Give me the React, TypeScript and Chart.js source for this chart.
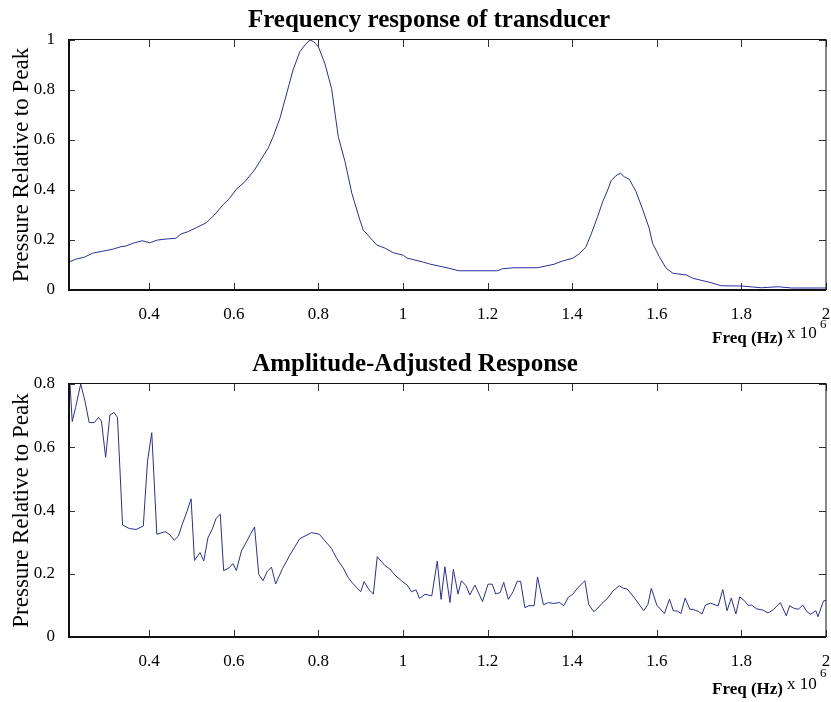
import React, { useEffect, useRef } from 'react';
import { Chart, registerables } from 'chart.js';

Chart.register(...registerables);

// ---------- data (frequency in MHz, i.e. Hz x 10^6) ----------
const TOP_FREQ = [
  0.209, 0.226, 0.246, 0.266, 0.289, 0.313, 0.333, 0.345, 0.365, 0.384,
  0.401, 0.420, 0.440, 0.463, 0.475, 0.491, 0.511, 0.535, 0.554, 0.574,
  0.590, 0.606, 0.626, 0.649, 0.661, 0.681, 0.693, 0.709, 0.724, 0.740,
  0.756, 0.768, 0.780, 0.789, 0.800, 0.815, 0.831, 0.847, 0.863, 0.879,
  0.898, 0.906, 0.938, 0.958, 0.977, 1.001, 1.009, 1.049, 1.065, 1.104,
  1.132, 1.223, 1.235, 1.262, 1.318, 1.357, 1.377, 1.401, 1.416, 1.432,
  1.444, 1.460, 1.472, 1.484, 1.492, 1.503, 1.514, 1.523, 1.535, 1.551,
  1.567, 1.582, 1.590, 1.606, 1.622, 1.638, 1.670, 1.685, 1.729, 1.752,
  1.800, 1.847, 1.887, 1.919, 2.000,
];
const TOP_PRESSURE = [
  0.111, 0.123, 0.131, 0.147, 0.155, 0.163, 0.173, 0.176, 0.189, 0.197,
  0.189, 0.200, 0.204, 0.207, 0.224, 0.233, 0.249, 0.269, 0.300, 0.340,
  0.367, 0.403, 0.433, 0.480, 0.513, 0.567, 0.613, 0.687, 0.780, 0.880,
  0.953, 0.980, 1.000, 0.993, 0.973, 0.907, 0.807, 0.613, 0.513, 0.387,
  0.280, 0.240, 0.180, 0.167, 0.149, 0.139, 0.128, 0.111, 0.103, 0.089,
  0.077, 0.077, 0.085, 0.089, 0.089, 0.103, 0.116, 0.127, 0.144, 0.171,
  0.220, 0.293, 0.353, 0.400, 0.437, 0.457, 0.467, 0.453, 0.443, 0.393,
  0.320, 0.247, 0.187, 0.133, 0.087, 0.067, 0.060, 0.047, 0.029, 0.017,
  0.016, 0.009, 0.013, 0.008, 0.008,
];

const ADJ_FREQ = [
  0.210, 0.218, 0.226, 0.238, 0.248, 0.258, 0.270, 0.280, 0.287, 0.297,
  0.307, 0.317, 0.325, 0.337, 0.353, 0.369, 0.386, 0.396, 0.406, 0.418,
  0.438, 0.448, 0.459, 0.469, 0.478, 0.489, 0.499, 0.507, 0.520, 0.529,
  0.539, 0.549, 0.558, 0.568, 0.576, 0.588, 0.598, 0.606, 0.618, 0.630,
  0.639, 0.649, 0.659, 0.669, 0.679, 0.689, 0.699, 0.715, 0.732, 0.756,
  0.784, 0.802, 0.831, 0.843, 0.860, 0.870, 0.881, 0.900, 0.908, 0.920,
  0.930, 0.939, 0.957, 0.969, 0.981, 0.997, 1.010, 1.020, 1.031, 1.039,
  1.052, 1.068, 1.081, 1.090, 1.099, 1.111, 1.119, 1.130, 1.138, 1.149,
  1.158, 1.170, 1.188, 1.201, 1.211, 1.219, 1.230, 1.238, 1.249, 1.260,
  1.270, 1.278, 1.288, 1.298, 1.310, 1.318, 1.332, 1.344, 1.356, 1.370,
  1.380, 1.391, 1.402, 1.412, 1.430, 1.439, 1.451, 1.458, 1.470, 1.482,
  1.496, 1.511, 1.521, 1.530, 1.548, 1.569, 1.579, 1.587, 1.600, 1.618,
  1.630, 1.639, 1.649, 1.657, 1.667, 1.678, 1.688, 1.698, 1.707, 1.715,
  1.727, 1.745, 1.756, 1.766, 1.776, 1.787, 1.796, 1.807, 1.816, 1.824,
  1.836, 1.851, 1.863, 1.875, 1.892, 1.906, 1.914, 1.925, 1.935, 1.945,
  1.955, 1.964, 1.976, 1.981, 1.994, 2.000,
];
const ADJ_PRESSURE = [
  0.860, 0.681, 0.726, 0.800, 0.747, 0.678, 0.678, 0.694, 0.683, 0.568,
  0.702, 0.710, 0.694, 0.354, 0.343, 0.340, 0.351, 0.556, 0.646, 0.325,
  0.333, 0.324, 0.306, 0.319, 0.356, 0.396, 0.437, 0.242, 0.267, 0.241,
  0.314, 0.341, 0.375, 0.388, 0.210, 0.218, 0.232, 0.210, 0.272, 0.301,
  0.324, 0.348, 0.198, 0.178, 0.207, 0.221, 0.168, 0.216, 0.258, 0.311,
  0.330, 0.325, 0.280, 0.249, 0.215, 0.189, 0.170, 0.143, 0.175, 0.149,
  0.136, 0.254, 0.226, 0.215, 0.196, 0.177, 0.164, 0.143, 0.149, 0.122,
  0.135, 0.130, 0.240, 0.119, 0.222, 0.109, 0.214, 0.136, 0.178, 0.162,
  0.133, 0.164, 0.112, 0.167, 0.167, 0.136, 0.141, 0.173, 0.119, 0.143,
  0.176, 0.176, 0.093, 0.099, 0.099, 0.190, 0.102, 0.109, 0.106, 0.109,
  0.099, 0.126, 0.136, 0.154, 0.178, 0.103, 0.080, 0.088, 0.106, 0.120,
  0.145, 0.162, 0.154, 0.152, 0.122, 0.083, 0.103, 0.154, 0.101, 0.074,
  0.120, 0.083, 0.082, 0.074, 0.123, 0.088, 0.086, 0.081, 0.073, 0.101,
  0.107, 0.098, 0.150, 0.083, 0.123, 0.073, 0.127, 0.115, 0.100, 0.101,
  0.089, 0.085, 0.076, 0.086, 0.109, 0.067, 0.099, 0.090, 0.088, 0.101,
  0.080, 0.072, 0.083, 0.064, 0.114, 0.116,
];

const X_TICKS = [0.4, 0.6, 0.8, 1, 1.2, 1.4, 1.6, 1.8, 2];
const TOP_Y_TICKS = [0, 0.2, 0.4, 0.6, 0.8, 1];
const ADJ_Y_TICKS = [0, 0.2, 0.4, 0.6, 0.8];

const TOP_TITLE = 'Frequency response of transducer';
const ADJ_TITLE = 'Amplitude-Adjusted Response';
const X_LABEL = 'Freq (Hz)';
const X_MULT = 'x 10';
const X_EXP = '6';
const Y_LABEL = 'Pressure Relative to Peak';

const X_MIN = 0.208;
const X_MAX = 2.0;

const SERIF = '"Liberation Serif", "Times New Roman", Times, serif';
const LINE_COLOR = '#28309a';

type PanelCfg = {
  freq: number[];
  vals: number[];
  yTicks: number[];
  yMax: number;
  title: string;
  titleX: number;
  titleBaseline: number;
  padTop: number;
  xAxisHeight: number;
  labelBaseline: number;
  multBaseline: number;
  expBaseline: number;
};

const fmt = (v: number) => String(Number(v.toFixed(2)));

function makeChart(canvas: HTMLCanvasElement, cfg: PanelCfg) {
  const framePlugin = {
    id: 'matlabFrame',
    afterDraw(chart: any) {
      const { ctx, chartArea } = chart;
      const { left, right, top, bottom } = chartArea;
      const xs = chart.scales.x;
      const ys = chart.scales.y;
      ctx.save();
      // inward ticks
      ctx.strokeStyle = '#333';
      ctx.lineWidth = 1;
      const tl = 7;
      ctx.beginPath();
      X_TICKS.forEach((v) => {
        const px = Math.round(xs.getPixelForValue(v)) + 0.5;
        ctx.moveTo(px, bottom);
        ctx.lineTo(px, bottom - tl);
        ctx.moveTo(px, top);
        ctx.lineTo(px, top + tl);
      });
      cfg.yTicks.forEach((v) => {
        const py = Math.round(ys.getPixelForValue(v)) + 0.5;
        ctx.moveTo(left, py);
        ctx.lineTo(left + tl, py);
        ctx.moveTo(right, py);
        ctx.lineTo(right - tl, py);
      });
      ctx.stroke();
      // box
      ctx.strokeStyle = '#111';
      ctx.lineWidth = 1;
      ctx.strokeRect(Math.round(left) + 0.5, Math.round(top) - 0.5, Math.round(right - left) - 0.5, Math.round(bottom - top));
      ctx.beginPath();
      ctx.moveTo(Math.round(left) + 1.5, top);
      ctx.lineTo(Math.round(left) + 1.5, bottom);
      ctx.moveTo(left, Math.round(bottom) + 0.5);
      ctx.lineTo(right, Math.round(bottom) + 0.5);
      ctx.stroke();

      // title
      ctx.fillStyle = '#000';
      ctx.textAlign = 'center';
      ctx.textBaseline = 'alphabetic';
      ctx.font = `bold 25px ${SERIF}`;
      ctx.fillText(cfg.title, cfg.titleX, cfg.titleBaseline);

      // x label with multiplier
      ctx.textAlign = 'right';
      ctx.font = `bold 17px ${SERIF}`;
      ctx.fillText(X_LABEL, 783, cfg.labelBaseline);
      ctx.textAlign = 'left';
      ctx.font = `17px ${SERIF}`;
      ctx.fillText(X_MULT, 787, cfg.multBaseline);
      ctx.font = `13px ${SERIF}`;
      ctx.fillText(X_EXP, 820, cfg.expBaseline);
      ctx.restore();
    },
  };

  return new Chart(canvas, {
    type: 'line',
    data: {
      datasets: [
        {
          data: cfg.freq.map((f, i) => ({ x: f, y: cfg.vals[i] })),
          borderColor: LINE_COLOR,
          borderWidth: 1,
          pointRadius: 0,
          tension: 0,
          fill: false,
        },
      ],
    },
    options: {
      responsive: false,
      animation: false,
      events: [],
      layout: { padding: { top: cfg.padTop, left: 0, right: 5, bottom: 0 } },
      plugins: {
        legend: { display: false },
        tooltip: { enabled: false },
        title: { display: false },
      },
      scales: {
        x: {
          type: 'linear',
          min: X_MIN,
          max: X_MAX,
          grid: { display: false },
          border: { display: false },
          afterBuildTicks: (scale: any) => {
            scale.ticks = X_TICKS.map((v) => ({ value: v }));
          },
          afterFit: (scale: any) => {
            scale.height = cfg.xAxisHeight;
            scale.paddingLeft = 0;
            scale.paddingRight = 0;
          },
          ticks: {
            autoSkip: false,
            maxRotation: 0,
            minRotation: 0,
            padding: 6,
            color: '#000',
            font: { family: SERIF, size: 17 },
            callback: (v: any) => fmt(Number(v)),
          },
        },
        y: {
          type: 'linear',
          min: 0,
          max: cfg.yMax,
          grid: { display: false },
          border: { display: false },
          afterBuildTicks: (scale: any) => {
            scale.ticks = cfg.yTicks.map((v) => ({ value: v }));
          },
          afterFit: (scale: any) => {
            scale.width = 68;
            scale.paddingTop = 0;
            scale.paddingBottom = 0;
          },
          ticks: {
            padding: 5,
            color: '#000',
            font: { family: SERIF, size: 17 },
            callback: (v: any) => fmt(Number(v)),
          },
          title: {
            display: true,
            text: Y_LABEL,
            color: '#000',
            font: { family: SERIF, size: 23 },
            padding: { top: 8, bottom: 0 },
          },
        },
      },
    },
    plugins: [framePlugin],
  } as any);
}

function Panel({ cfg, top }: { cfg: PanelCfg; top: number }) {
  const ref = useRef<HTMLCanvasElement | null>(null);
  useEffect(() => {
    if (!ref.current) return;
    const chart = makeChart(ref.current, cfg);
    return () => chart.destroy();
  }, []);
  return (
    <canvas
      ref={ref}
      width={831}
      height={351}
      style={{ position: 'absolute', left: 0, top, width: 831, height: 351, display: 'block' }}
    />
  );
}

const TOP_CFG: PanelCfg = {
  freq: TOP_FREQ,
  vals: TOP_PRESSURE,
  yTicks: TOP_Y_TICKS,
  yMax: 1,
  title: TOP_TITLE,
  titleX: 429,
  titleBaseline: 27,
  padTop: 40,
  xAxisHeight: 61,
  labelBaseline: 343,
  multBaseline: 338,
  expBaseline: 328,
};

const ADJ_CFG: PanelCfg = {
  freq: ADJ_FREQ,
  vals: ADJ_PRESSURE,
  yTicks: ADJ_Y_TICKS,
  yMax: 0.8,
  title: ADJ_TITLE,
  titleX: 415,
  titleBaseline: 20,
  padTop: 33,
  xAxisHeight: 65,
  labelBaseline: 343,
  multBaseline: 338,
  expBaseline: 326,
};

export default function App() {
  return (
    <div style={{ position: 'absolute', left: 0, top: 0, width: 831, height: 702, background: '#fff' }}>
      <Panel cfg={TOP_CFG} top={0} />
      <Panel cfg={ADJ_CFG} top={351} />
    </div>
  );
}
